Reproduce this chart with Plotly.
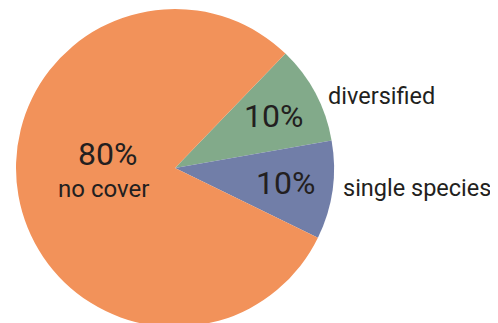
import math
import plotly.graph_objects as go

labels = ["diversified", "single species", "no cover"]
values = [10, 10, 80]
colors = ["#82AA8A", "#717EA8", "#F2925A"]
pct_text = ["10%", "10%", "80%"]

OFF = 8  # page body margin
W, H = 498, 323
cx, cy, R = 175 - OFF, 168 - OFF, 159
rotation = 44  # compass degrees where first slice starts

fig = go.Figure(go.Pie(
    labels=labels, values=values, sort=False, direction="clockwise",
    rotation=rotation, marker=dict(colors=colors, line=dict(width=0)),
    textinfo="none", hoverinfo="label+percent", showlegend=False,
    domain=dict(x=[(cx - R) / W, (cx + R) / W], y=[(H - cy - R) / H, (H - cy + R) / H]),
))

font = "Roboto, Noto Sans, sans-serif"
tc = "#231F20"
total = sum(values)
label_nudge = [2.5, -1.0, 0.0]
start = rotation
ann = []


def add(x, y, text, size, xanchor="center"):
    ann.append(dict(x=x / W, y=1 - y / H, text=text, showarrow=False,
                    xref="paper", yref="paper", xanchor=xanchor, yanchor="middle",
                    font=dict(size=size, color=tc, family=font)))


for i, v in enumerate(values):
    span = 360 * v / total
    mid = start + span / 2
    start += span
    m = math.radians(mid)
    if i < 2:
        r_in = 0.70 * R
        add(cx + r_in * math.sin(m), cy - r_in * math.cos(m), pct_text[i], 32)
        ml = math.radians(mid + label_nudge[i])
        r_out = 1.05 * R
        add(cx + r_out * math.sin(ml), cy - r_out * math.cos(ml), labels[i], 23.5, "left")
    else:
        r_in = 0.43 * R
        px, py = cx + r_in * math.sin(m), cy - r_in * math.cos(m)
        add(px, py - 26, pct_text[i], 32)
        add(px - 4, py + 9, labels[i], 24)

fig.update_layout(width=W, height=H, margin=dict(l=0, r=0, t=0, b=0),
                  paper_bgcolor="white", plot_bgcolor="white", annotations=ann)
fig.write_html("out.html")
